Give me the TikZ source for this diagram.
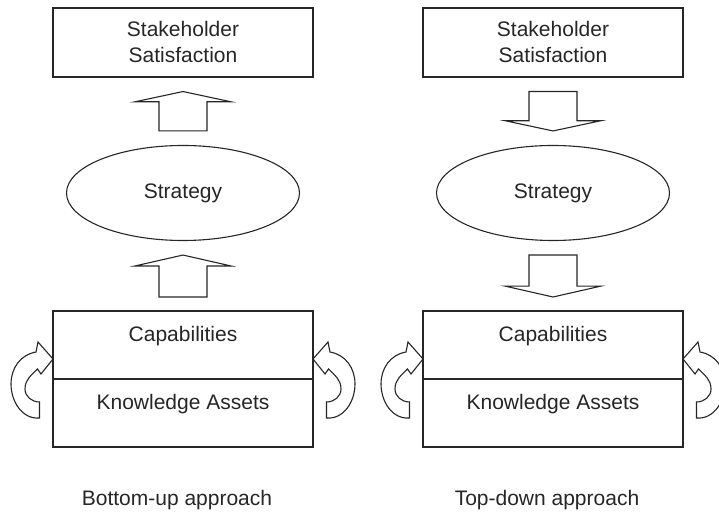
\documentclass[tikz,border=0pt]{standalone}
\usepackage{fontspec}
\setmainfont{Liberation Sans}
\usetikzlibrary{shapes.geometric,positioning,calc}

\tikzset{
  frame/.style={draw=black!85, line width=1.1pt},
  txt/.style={font=\fontsize{21}{26}\selectfont, text=black!85},
  topbox/.style={frame, txt, minimum width=260pt, minimum height=69pt, inner sep=0pt, align=center},
  halfbox/.style={frame, txt, minimum width=260pt, minimum height=68pt, inner sep=0pt, outer sep=0pt, text height=15pt, text depth=21pt},
  oval/.style={frame, txt, ellipse, minimum width=233pt, minimum height=95pt, inner sep=0pt},
  blockarrow/.style={frame, fill=white, line join=miter},
  cyclearrow/.pic={
    \draw[blockarrow] (0,0) -- (-15,17) -- (-17,7) to[out=190,in=90] (-42,-25)
      to[out=-90,in=185] (-13.5,-59) -- (-13.5,-43) to[out=180,in=-90] (-28,-30)
      to[out=90,in=225] (-15.5,-10) -- (-12,-15) -- cycle;
  }
}

% fat arrow from tail #1 to tip #2
\newcommand{\fatarrow}[2]{%
  \draw[blockarrow] ($(#1)+(-24,0)$) -- ($(#1)!0.74!(#2)+(-24,0)$) -- ($(#1)!0.74!(#2)+(-48,0)$)
    -- (#2) -- ($(#1)!0.74!(#2)+(48,0)$) -- ($(#1)!0.74!(#2)+(24,0)$) -- ($(#1)+(24,0)$) -- cycle;}

\begin{document}
\begin{tikzpicture}[x=1pt, y=1pt]
\useasboundingbox (0,0) rectangle (719,511);
\clip (0,0) rectangle (719,511);

% Bottom-up (left)
\node[topbox] (satL) at (183,468.5) {Stakeholder\\Satisfaction};
\node[oval] (stratL) at (183,318) {Strategy};
\node[halfbox] (capL) at (183,166) {Capabilities};
\node[halfbox, below=0pt of capL] (kaL) {Knowledge Assets};
\node[txt, anchor=base] (bottomup) at (177,6) {Bottom-up approach};

\coordinate[below=14pt of satL] (upL1b);
\coordinate[above=14pt of stratL] (upL1a);
\coordinate[below=14pt of stratL] (upL2b);
\coordinate[above=14pt of capL] (upL2a);
\fatarrow{upL1a}{upL1b}
\fatarrow{upL2a}{upL2b}

\pic at ($(capL.south west)+(0,20)$) {cyclearrow};
\pic[xscale=-1] at ($(capL.south east)+(0,20)$) {cyclearrow};

% Top-down (right)
\node[topbox] (satR) at (553,468.5) {Stakeholder\\Satisfaction};
\node[oval] (stratR) at (553,318) {Strategy};
\node[halfbox] (capR) at (553,166) {Capabilities};
\node[halfbox, below=0pt of capR] (kaR) {Knowledge Assets};
\node[txt, anchor=base] (topdown) at (547,6) {Top-down approach};

\coordinate[below=14pt of satR] (dnR1a);
\coordinate[above=14pt of stratR] (dnR1b);
\coordinate[below=14pt of stratR] (dnR2a);
\coordinate[above=14pt of capR] (dnR2b);
\fatarrow{dnR1a}{dnR1b}
\fatarrow{dnR2a}{dnR2b}

\pic at ($(capR.south west)+(0,20)$) {cyclearrow};
\pic[xscale=-1] at ($(capR.south east)+(0,20)$) {cyclearrow};

\end{tikzpicture}
\end{document}
